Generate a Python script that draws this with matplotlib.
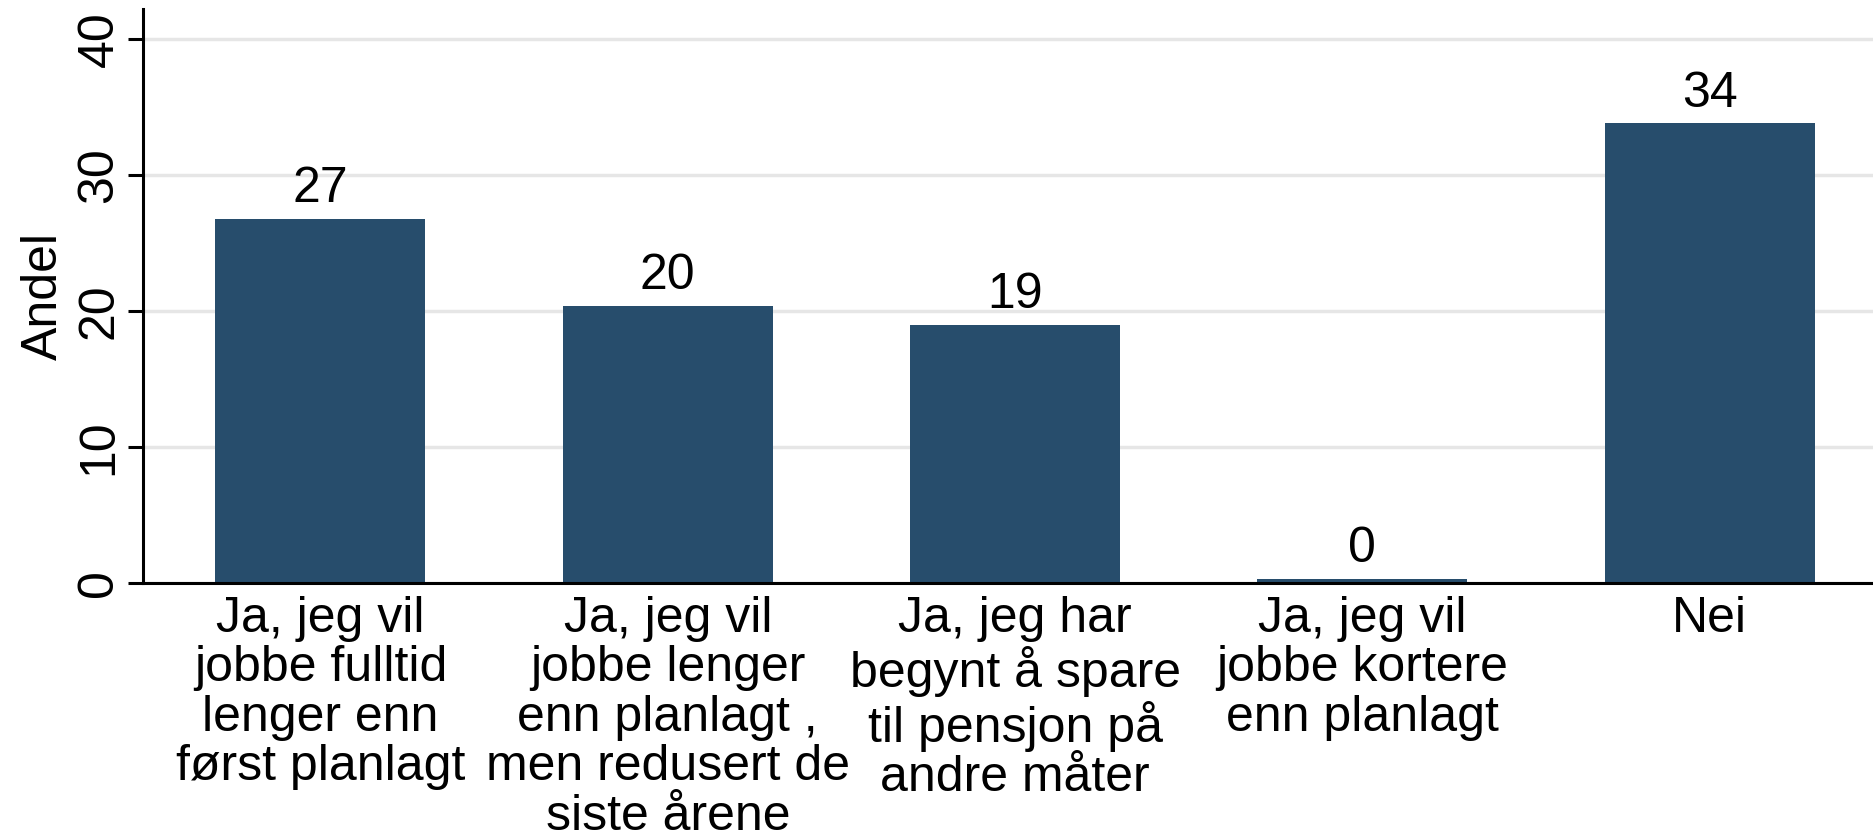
import matplotlib.pyplot as plt
import numpy as np

plt.rcParams['font.family'] = ['Liberation Sans', 'DejaVu Sans']

# answer categories and share (percent)
categories = [
    "Ja, jeg vil\njobbe fulltid\nlenger enn\nførst planlagt",
    "Ja, jeg vil\njobbe lenger\nenn planlagt ,\nmen redusert de\nsiste årene",
    "Ja, jeg har\nbegynt å spare\ntil pensjon på\nandre måter",
    "Ja, jeg vil\njobbe kortere\nenn planlagt",
    "Nei",
]
values = [26.8, 20.4, 19.0, 0.3, 33.8]
value_labels = ["27", "20", "19", "0", "34"]
yticks = [0, 10, 20, 30, 40]

bar_color = "#274d6c"
fs = 36

fig = plt.figure(figsize=(18.73, 8.39), dpi=100)
ax = fig.add_axes([0.0765, 0.305, 0.9235, 0.684])

x = np.arange(len(categories))
bars = ax.bar(x, values, width=0.605, color=bar_color, zorder=2)

# value labels above the bars
for b, lab in zip(bars, value_labels):
    ax.annotate(lab, (b.get_x() + b.get_width() / 2, b.get_height()),
                xytext=(0, 5), textcoords="offset points",
                ha="center", va="bottom", fontsize=fs)

ax.set_xlim(-0.51, 4.47)
ax.set_ylim(0, 42.2)
ax.set_yticks(yticks)
ax.set_yticklabels([str(t) for t in yticks], rotation=90, va="center", fontsize=fs)
ax.set_xticks(x)
ax.set_xticklabels(categories, fontsize=fs, linespacing=1.1, va="top")
ax.tick_params(axis="x", length=0, pad=9)
ax.tick_params(axis="y", length=11, width=2.2, pad=4)
ax.set_ylabel("Andel", fontsize=fs, labelpad=7)

ax.yaxis.grid(True, color="#e6e6e6", linewidth=2.5, zorder=0)
ax.set_axisbelow(True)
for s in ["top", "right"]:
    ax.spines[s].set_visible(False)
for s in ["left", "bottom"]:
    ax.spines[s].set_linewidth(2.2)
    ax.spines[s].set_color("black")

fig.savefig("out.png", dpi=100)
